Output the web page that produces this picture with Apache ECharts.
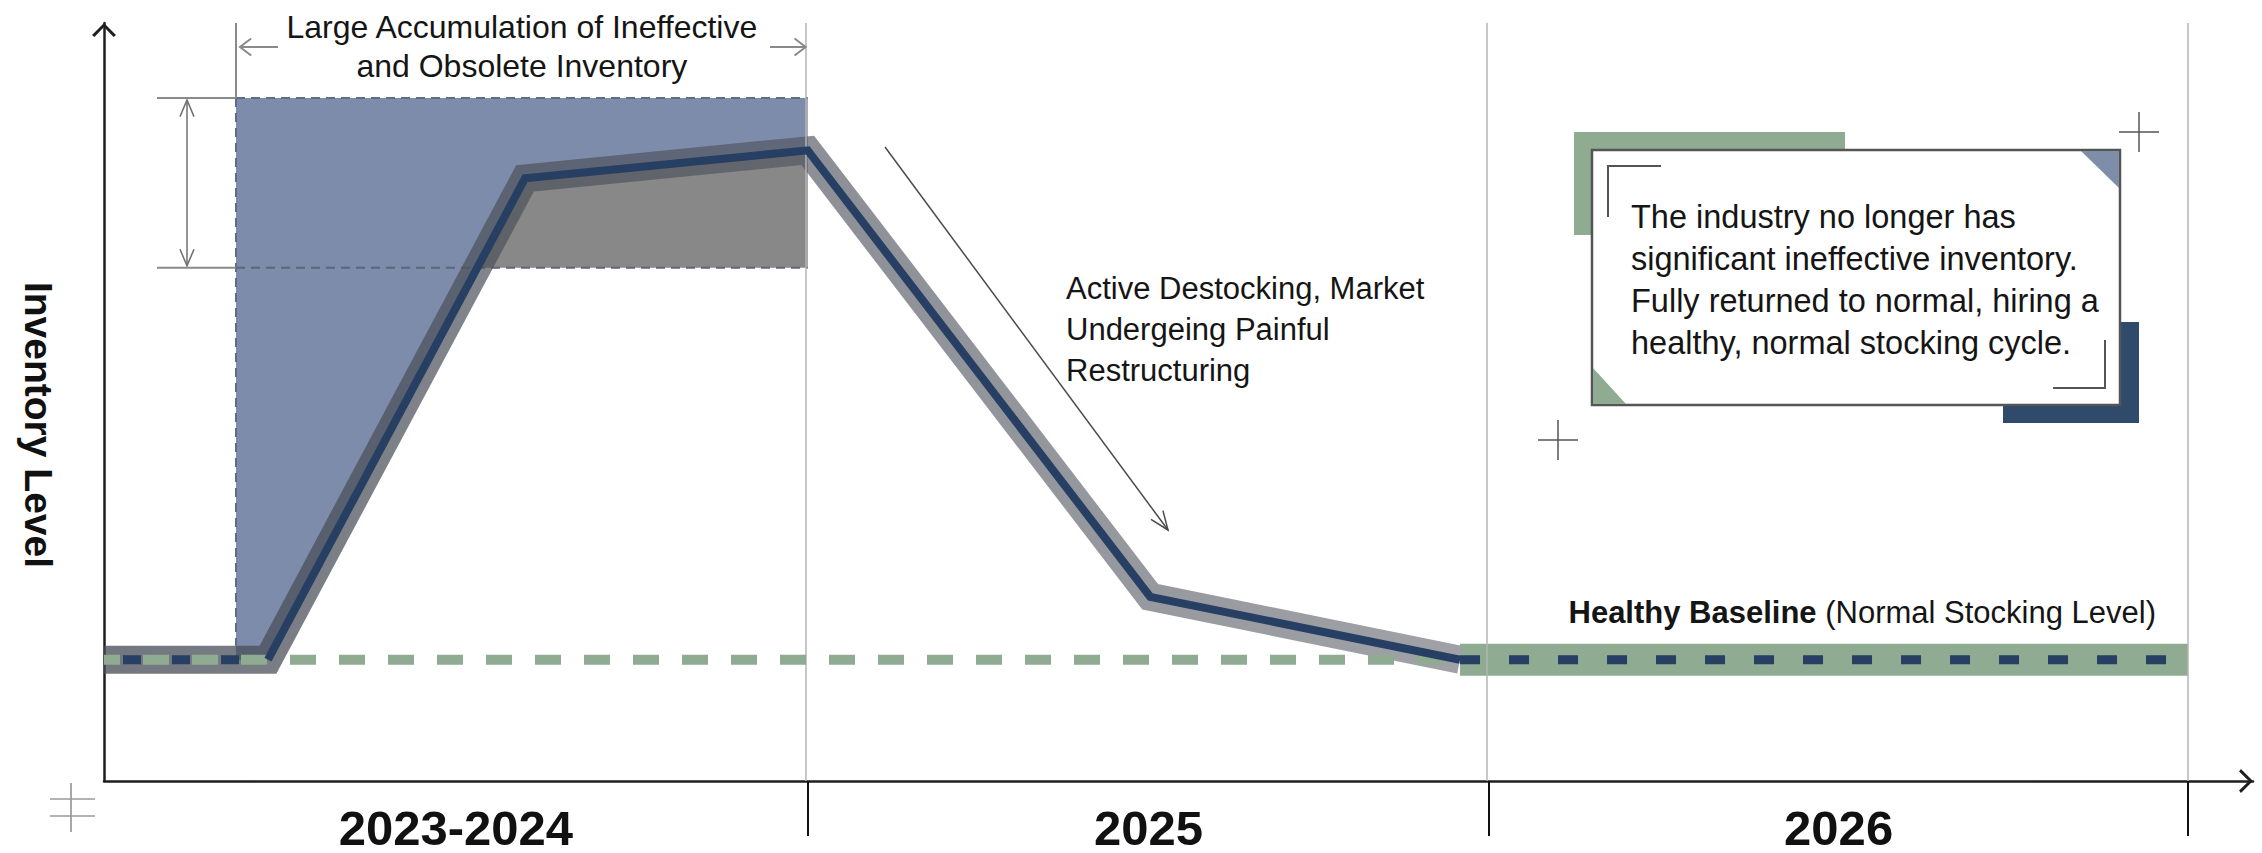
<!DOCTYPE html>
<html>
<head>
<meta charset="utf-8">
<script src="https://cdn.jsdelivr.net/npm/echarts@6/dist/echarts.min.js"></script>
<style>
html,body{margin:0;padding:0;background:#ffffff;}
#c{width:2262px;height:853px;}
</style>
</head>
<body>
<div id="c"></div>
<script>
// ---------- data ----------
const categories = ['2023-2024', '2025', '2026'];
const sectionBounds = [0, 1.013, 1.994, 3.0];          // period boundaries on the time axis
const inventoryX = [0, 0.236, 0.606, 1.013, 1.506, 1.952, 3.0];
const inventoryY = [16, 16, 79.5, 83.2, 24.3, 16, 16];  // inventory level
const healthyBaseline = 16;
const obsoleteStartX = 0.19;
const obsoleteTop = 90.1;
const obsoleteFloor = 67.7;
const xMax = 3.0935;
const yMax = 100;

const annotationTop = ['Large Accumulation of Ineffective', 'and Obsolete Inventory'];
const annotationMid = ['Active Destocking, Market', 'Undergeing Painful', 'Restructuring'];
const annotationBox = ['The industry no longer has', 'significant ineffective inventory.', 'Fully returned to normal, hiring a', 'healthy, normal stocking cycle.'];
const baselineLabelBold = 'Healthy Baseline';
const baselineLabelRest = ' (Normal Stocking Level)';
const yTitle = 'Inventory Level';

// ---------- derived ----------
const navy = '#263f63', green = '#8fab92', blueFill = '#7d8cab', greyFill = '#888888';
const FONT = "'Liberation Sans', Arial, sans-serif";
const points = inventoryX.map((x, i) => [x, inventoryY[i]]);
const flatEndIdx = 1, peakIdx = 3, returnIdx = 5;
const sectionCenters = categories.map((c, i) => (sectionBounds[i] + sectionBounds[i + 1]) / 2);

// polygon of the ineffective/obsolete block: top edge, then back along the inventory line
const risePts = points.slice(flatEndIdx, peakIdx + 1);
const bluePoly = [[obsoleteStartX, obsoleteTop], [sectionBounds[1], obsoleteTop]]
  .concat(risePts.slice().reverse())
  .concat([[obsoleteStartX, healthyBaseline]]);
const pa = points[flatEndIdx], pb = points[flatEndIdx + 1];
const crossX = pa[0] + (obsoleteFloor - pa[1]) / (pb[1] - pa[1]) * (pb[0] - pa[0]);
const greyPoly = [[crossX, obsoleteFloor]]
  .concat(points.slice(flatEndIdx + 1, peakIdx + 1))
  .concat([[sectionBounds[1], obsoleteFloor]]);

const chevronSym = 'path://M0,0 L10,10 L8,11.6 L0,3.4 L-8,11.6 L-10,10 Z';

const chart = echarts.init(document.getElementById('c'), null, {renderer: 'svg'});

function polygonSeries(name, poly, fill, z, topEdge) {
  return {
    name: name, type: 'custom', coordinateSystem: 'cartesian2d', z: z, silent: true,
    data: [poly[0]],
    renderItem: function (params, api) {
      const pts = poly.map(p => api.coord(p));
      const children = [{type: 'polygon', shape: {points: pts}, style: {fill: fill}}];
      if (topEdge) {
        children.push({type: 'line', shape: {x1: pts[0][0], y1: pts[0][1], x2: pts[1][0], y2: pts[1][1]},
          style: {stroke: '#5e6c87', lineWidth: 2, lineDash: [9, 6]}});
      }
      return {type: 'group', children: children};
    }
  };
}

const option = {
  animation: false,
  backgroundColor: '#ffffff',
  grid: {left: 104, right: 9, top: 23, bottom: 72, containLabel: false, outerBoundsMode: 'none'},
  xAxis: [
    {
      type: 'value', min: 0, max: xMax, position: 'bottom',
      axisLine: {show: true, onZero: false, lineStyle: {color: '#1e1e1e', width: 2.5},
        symbol: ['none', chevronSym], symbolSize: [24, 14], symbolOffset: [0, -7]},
      axisTick: {show: false},
      splitLine: {show: false},
      axisLabel: {
        show: true, customValues: sectionCenters,
        formatter: function (v) {
          let best = 0;
          sectionCenters.forEach((c, i) => { if (Math.abs(c - v) < Math.abs(sectionCenters[best] - v)) best = i; });
          return categories[best];
        },
        fontSize: 49, fontWeight: 'bold', color: '#111111', fontFamily: FONT, margin: 22
      }
    },
    {
      type: 'value', min: 0, max: xMax, position: 'bottom', offset: 17,
      axisLine: {show: false},
      axisTick: {show: true, customValues: sectionBounds.slice(1), length: 55, lineStyle: {color: '#111111', width: 2}},
      axisLabel: {show: false},
      splitLine: {show: false}
    }
  ],
  yAxis: {
    type: 'value', min: 0, max: yMax,
    axisLine: {show: true, onZero: false, lineStyle: {color: '#1e1e1e', width: 2.5},
      symbol: ['none', chevronSym], symbolSize: [24, 14], symbolOffset: [0, -7]},
    axisTick: {show: false}, axisLabel: {show: false}, splitLine: {show: false},
    name: yTitle, nameLocation: 'middle', nameRotate: -90, nameGap: 46,
    nameTextStyle: {fontSize: 39, fontWeight: 'bold', color: '#111111',
      fontFamily: FONT, padding: [0, 0, 0, 46]}
  },
  series: [
    polygonSeries('Ineffective and Obsolete Inventory', bluePoly, blueFill, 1, true),
    polygonSeries('Excess over normal', greyPoly, greyFill, 2, false),
    {name: 'dividers', type: 'line', data: [], symbol: 'none', z: 3, silent: true,
      markLine: {symbol: 'none', silent: true, label: {show: false},
        lineStyle: {color: '#b4b4b4', width: 1.5, type: 'solid'},
        data: sectionBounds.slice(1).map(v => ({xAxis: v}))}},
    {name: 'halo', type: 'line', data: points.slice(0, returnIdx + 1), symbol: 'none', silent: true,
      lineStyle: {width: 28, join: 'miter', cap: 'butt',
        color: new echarts.graphic.LinearGradient(0, 0, 1, 0, [
          {offset: 0, color: 'rgba(70,75,85,0.76)'},
          {offset: 0.5, color: 'rgba(80,85,95,0.66)'},
          {offset: 1, color: 'rgba(90,94,102,0.58)'}])}, z: 4},
    {name: 'greenBand', type: 'line', data: points.slice(returnIdx), symbol: 'none', silent: true,
      lineStyle: {width: 32, color: green, cap: 'butt'}, z: 4},
    {name: 'Healthy Baseline', type: 'line', data: [[0, healthyBaseline], [inventoryX[returnIdx], healthyBaseline]],
      symbol: 'none', silent: true, lineStyle: {width: 10, color: green, type: [26, 23], dashOffset: 10, cap: 'butt'}, z: 5},
    {name: 'flatLeft', type: 'line', data: points.slice(0, flatEndIdx + 1), symbol: 'none', silent: true,
      lineStyle: {width: 9, color: navy, type: [18, 31], dashOffset: 30, cap: 'butt'}, z: 6},
    {name: 'Inventory Level', type: 'line', data: points.slice(flatEndIdx, returnIdx + 1), symbol: 'none', silent: true,
      lineStyle: {width: 8, color: navy, join: 'miter', cap: 'butt'}, z: 6},
    {name: 'flatRight', type: 'line', data: points.slice(returnIdx), symbol: 'none', silent: true,
      lineStyle: {width: 9, color: navy, type: [20, 29], dashOffset: 0, cap: 'butt'}, z: 6}
  ]
};
chart.setOption(option);

// ---------- annotations ----------
const P = (x, y) => chart.convertToPixel({xAxisIndex: 0, yAxisIndex: 0}, [x, y]);
const xl = P(obsoleteStartX, 0)[0];
const xr = P(sectionBounds[1], 0)[0];
const yTop = P(0, obsoleteTop)[1];
const yFloor = P(0, obsoleteFloor)[1];
const yBase = P(0, healthyBaseline)[1];

const els = [];
function line(x1, y1, x2, y2, stroke, w, dash, z) {
  els.push({type: 'line', silent: true, z: z || 10,
    shape: {x1, y1, x2, y2}, style: {stroke, lineWidth: w, lineDash: dash || null}});
}
function poly(pts, stroke, w, z) {
  els.push({type: 'polyline', silent: true, z: z || 10, shape: {points: pts},
    style: {stroke, lineWidth: w, fill: null, lineJoin: 'miter'}});
}
function chevron(tx, ty, dx, dy, L, ang) {
  const n = Math.hypot(dx, dy); dx /= n; dy /= n;
  const c = Math.cos(ang), s = Math.sin(ang);
  const b1 = [-(dx * c - dy * s), -(dx * s + dy * c)];
  const b2 = [-(dx * c + dy * s), -(-dx * s + dy * c)];
  return [[tx + L * b1[0], ty + L * b1[1]], [tx, ty], [tx + L * b2[0], ty + L * b2[1]]];
}
function text(str, x, y, size, align, extra) {
  els.push({type: 'text', silent: true, z: 12, x: x, y: y,
    style: Object.assign({text: str, fontSize: size, fontFamily: FONT, fill: '#151515',
      align: align, verticalAlign: 'middle'}, extra || {})});
}

// dashed edges of the obsolete-inventory block
line(xl, yFloor, xr, yFloor, '#5d6677', 2, [9, 6], 3);
line(xl, yTop, xl, yBase - 14, '#5e6c87', 2, [9, 6], 3);

// dimension annotation on top
const dimGrey = '#8a8a8a';
line(xl, 23, xl, yTop, dimGrey, 2);
line(xl + 4, 47, 278, 47, dimGrey, 2);
poly(chevron(xl + 4, 47, -1, 0, 14, 0.65), dimGrey, 2);
line(770, 47, xr - 2, 47, dimGrey, 2);
poly(chevron(xr - 2, 47, 1, 0, 14, 0.65), dimGrey, 2);
text(annotationTop[0], (xl + xr) / 2, 27, 32, 'center');
text(annotationTop[1], (xl + xr) / 2, 66, 32, 'center');

// left vertical dimension
line(157, yTop, xl, yTop, dimGrey, 2);
line(157, yFloor, xl, yFloor, dimGrey, 2);
line(187, yTop + 2, 187, yFloor - 2, '#6e6e6e', 1.5);
poly(chevron(187, yTop + 2, 0, -1, 18, 0.4), '#6e6e6e', 1.5);
poly(chevron(187, yFloor - 2, 0, 1, 18, 0.4), '#6e6e6e', 1.5);

// destocking arrow + text
line(885, 147, 1168, 530, '#4a4a4a', 1.5);
poly(chevron(1168, 530, 1168 - 885, 530 - 147, 20, 0.38), '#4a4a4a', 1.5);
annotationMid.forEach((s, i) => text(s, 1066, 288 + i * 41, 31, 'left'));

// healthy baseline label
els.push({type: 'text', silent: true, z: 12, x: 2156, y: 612,
  style: {text: '{b|' + baselineLabelBold + '}' + baselineLabelRest, fontSize: 31, fontFamily: FONT,
    fill: '#151515', align: 'right', verticalAlign: 'middle',
    rich: {b: {fontWeight: 'bold', fontSize: 31, fontFamily: FONT, fill: '#151515'}}}});

// callout box
els.push({type: 'rect', silent: true, z: 8, shape: {x: 1574, y: 132, width: 271, height: 103}, style: {fill: green}});
els.push({type: 'rect', silent: true, z: 8, shape: {x: 2003, y: 322, width: 136, height: 101}, style: {fill: '#2f4a6b'}});
els.push({type: 'rect', silent: true, z: 9, shape: {x: 1592, y: 150, width: 528, height: 255},
  style: {fill: '#ffffff', stroke: '#555555', lineWidth: 2.5}});
els.push({type: 'polygon', silent: true, z: 10, shape: {points: [[2081, 151], [2119, 151], [2119, 188]]}, style: {fill: '#7e8da8'}});
els.push({type: 'polygon', silent: true, z: 10, shape: {points: [[1593, 368], [1593, 404], [1626, 404]]}, style: {fill: green}});
poly([[1661, 166], [1608, 166], [1608, 217]], '#555555', 2);
poly([[2105, 340], [2105, 388], [2053, 388]], '#555555', 2);
annotationBox.forEach((s, i) => text(s, 1631, 217 + i * 42, 32.5, 'left'));

// plus marks
line(2119, 132, 2159, 132, '#555555', 1.5); line(2139, 112, 2139, 152, '#555555', 1.5);
line(1538, 440, 1578, 440, '#555555', 1.5); line(1558, 420, 1558, 460, '#555555', 1.5);
line(71, 783, 71, 832, '#8a8a8a', 1.5);
line(50, 799, 95, 799, '#9a9a9a', 1.5); line(50, 816, 95, 816, '#9a9a9a', 1.5);

chart.setOption({graphic: {elements: els}});
</script>
</body>
</html>
